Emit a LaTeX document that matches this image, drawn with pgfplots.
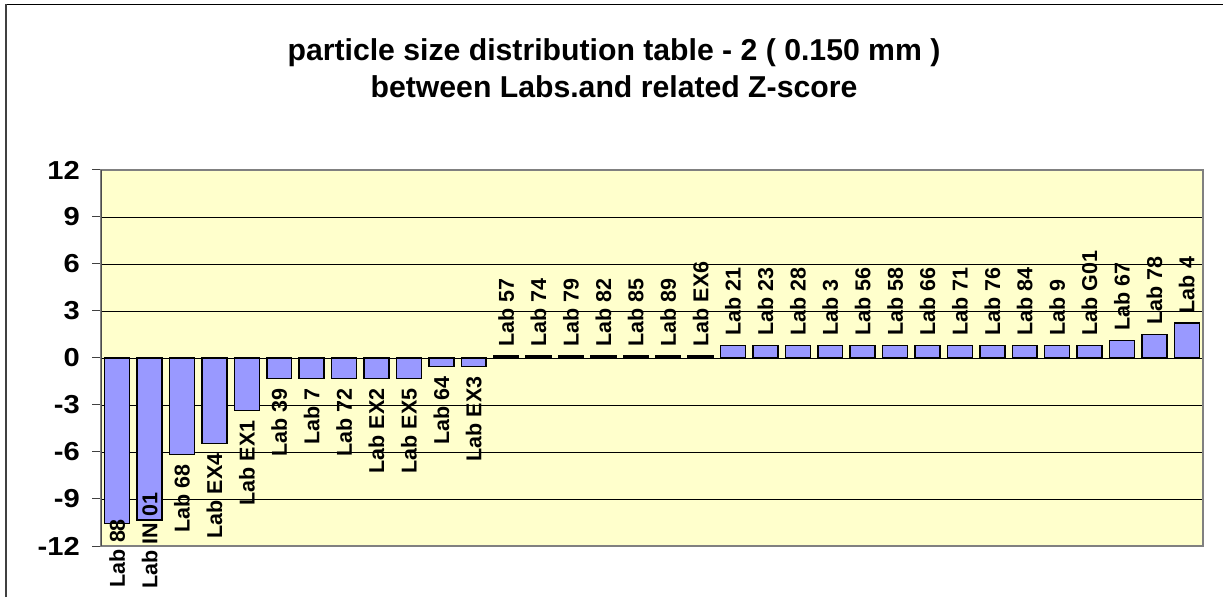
\documentclass[border=0pt]{standalone}
\usepackage{pgfplots}
\pgfplotsset{compat=1.18}
\usepackage{pgfplotstable}
\usepackage{fontspec}
\setmainfont{Liberation Sans}
\newfontfamily\tickfont{Liberation Sans}[FakeStretch=1.12]

\definecolor{plotbg}{HTML}{FFFFCC}
\definecolor{barfill}{HTML}{9999FF}
\definecolor{frameg}{HTML}{808080}

% negative z-scores (labels below the bar end)
\pgfplotstableread[col sep=comma]{
x,y,label,shift
0,-10.55,Lab 88,14
1,-10.34,Lab IN 01,37
2,-6.15,Lab 68,0
3,-5.47,Lab EX4,0
4,-3.36,Lab EX1,0
5,-1.32,Lab 39,0
6,-1.32,Lab 7,0
7,-1.32,Lab 72,0
8,-1.32,Lab EX2,0
9,-1.32,Lab EX5,0
10,-0.55,Lab 64,0
11,-0.55,Lab EX3,0
}\negtable

% positive z-scores (labels above the bar end)
\pgfplotstableread[col sep=comma]{
x,y,label
12,0.12,Lab 57
13,0.12,Lab 74
14,0.12,Lab 79
15,0.12,Lab 82
16,0.12,Lab 85
17,0.12,Lab 89
18,0.12,Lab EX6
19,0.80,Lab 21
20,0.80,Lab 23
21,0.80,Lab 28
22,0.80,Lab 3
23,0.80,Lab 56
24,0.80,Lab 58
25,0.80,Lab 66
26,0.80,Lab 71
27,0.80,Lab 76
28,0.80,Lab 84
29,0.80,Lab 9
30,0.80,Lab G01
31,1.12,Lab 67
32,1.51,Lab 78
33,2.24,Lab 4
}\postable

\begin{document}
\begin{tikzpicture}
\useasboundingbox (0,0) rectangle (1223pt,597pt);
% outer chart frame
\draw[black, line width=1pt] (6pt,592.5pt) -- (1223pt,592.5pt);
\draw[black!75, line width=2pt] (6pt,0pt) -- (6pt,593pt);
% title
\node[anchor=base, font=\bfseries\fontsize{30.2}{30.2}\selectfont, inner sep=0pt] at (614pt,536pt) {particle size distribution table - 2 ( 0.150 mm )};
\node[anchor=base, font=\bfseries\fontsize{30.2}{30.2}\selectfont, inner sep=0pt] at (614pt,499pt) {between Labs.and related Z-score};
\begin{axis}[
  at={(101pt,51pt)}, anchor=south west,
  scale only axis, width=1102pt, height=376pt,
  xmin=-0.5, xmax=33.5, ymin=-12, ymax=12,
  ytick={-12,-9,-6,-3,0,3,6,9,12},
  yticklabels={-12,-9,-6,-3,0,3,6,9,12},
  xtick=\empty,
  ymajorgrids, grid style={black, line width=0.8pt},
  axis background/.style={fill=plotbg},
  axis line style={draw=frameg, line width=2pt},
  tick align=outside, ytick pos=left, major tick length=9pt,
  tick style={black!75, line width=1pt},
  yticklabel style={font=\tickfont\bfseries\fontsize{26}{26}\selectfont, inner sep=0pt, anchor=east, xshift=-12pt},
  ybar, bar width=0.77, bar shift=0pt,
  clip=false,
]
\addplot[
  fill=barfill, draw=black, line width=1.5pt,
  nodes near coords,
  point meta=explicit symbolic,
  visualization depends on={\thisrow{shift} \as \myshift},
  every node near coord/.append style={yshift=\myshift pt, rotate=90, anchor=east,
    inner xsep=9pt, inner ysep=0pt, text=black,
    font=\bfseries\fontsize{21.5}{21.5}\selectfont},
] table[x=x, y=y, meta=label] {\negtable};
\addplot[
  fill=barfill, draw=black, line width=1.5pt,
  nodes near coords,
  point meta=explicit symbolic,
  every node near coord/.append style={rotate=90, anchor=west,
    inner xsep=9pt, inner ysep=0pt, text=black,
    font=\bfseries\fontsize{21.5}{21.5}\selectfont},
] table[x=x, y=y, meta=label] {\postable};
\draw[black!70, line width=1pt] (rel axis cs:0,0) -- (rel axis cs:0,1);
\end{axis}
\end{tikzpicture}
\end{document}
